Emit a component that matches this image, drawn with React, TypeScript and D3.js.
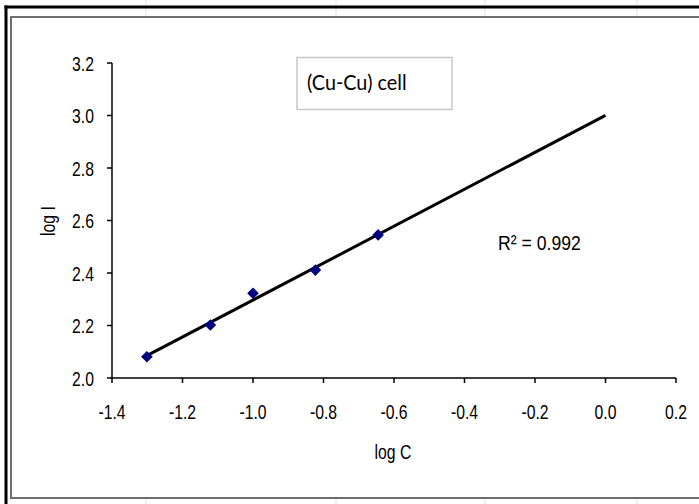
import React, { useEffect, useRef } from "react";
import * as d3 from "d3";

// measured points (log C, log I)
const logC = [-1.301, -1.121, -1.0, -0.823, -0.645];
const logI = [2.081, 2.202, 2.323, 2.411, 2.545];
const xTicks = [-1.4, -1.2, -1.0, -0.8, -0.6, -0.4, -0.2, 0.0, 0.2];
const yTicks = [2.0, 2.2, 2.4, 2.6, 2.8, 3.0, 3.2];
const trendEnd = 0.0; // trendline forecast forward to log C = 0
const title = "(Cu-Cu) cell";
const rSquared = "R\u00b2 = 0.992";
const sheetCols = [146, 336, 485, 637];

const W = 699;
const H = 504;
const NARROW = 0.75;
const FONT = "'Liberation Sans', Arial, sans-serif";

const App = () => {
  const ref = useRef<SVGSVGElement>(null);

  useEffect(() => {
    const svg = d3.select(ref.current);
    svg.selectAll("*").remove();

    // spreadsheet behind the chart
    svg.append("rect").attr("width", W).attr("height", H).attr("fill", "#fff");
    svg
      .selectAll(".col")
      .data(sheetCols)
      .enter()
      .append("line")
      .attr("x1", (d) => d)
      .attr("x2", (d) => d)
      .attr("y1", 0)
      .attr("y2", H)
      .attr("stroke", "#dde1e6")
      .attr("stroke-width", 1);

    // chart area
    svg
      .append("rect")
      .attr("x", 11)
      .attr("y", 17)
      .attr("width", W)
      .attr("height", 481)
      .attr("fill", "#fff")
      .attr("stroke", "#6e6e6e")
      .attr("stroke-width", 2);

    // selection edge
    svg.append("line").attr("x1", 4.5).attr("x2", W).attr("y1", 7).attr("y2", 7).attr("stroke", "#000").attr("stroke-width", 3);
    svg.append("line").attr("x1", 6).attr("x2", 6).attr("y1", 5.5).attr("y2", H).attr("stroke", "#000").attr("stroke-width", 3);

    const x = d3.scaleLinear().domain([-1.4, 0.2]).range([112, 676]);
    const y = d3.scaleLinear().domain([2.0, 3.2]).range([378, 63]);

    const narrowText = (g, tx, ty, txt, size, anchor, sx = NARROW) =>
      g
        .append("text")
        .attr("transform", `translate(${tx},${ty}) scale(${sx},1)`)
        .attr("text-anchor", anchor)
        .attr("font-family", FONT)
        .attr("font-size", size)
        .attr("fill", "#000")
        .text(txt);

    // y axis
    const yAxis = svg.append("g");
    yAxis.append("line").attr("x1", x(-1.4)).attr("x2", x(-1.4)).attr("y1", y(3.2)).attr("y2", y(2.0)).attr("stroke", "#000").attr("stroke-width", 1.5);
    yTicks.forEach((t) => {
      yAxis.append("line").attr("x1", x(-1.4) - 5).attr("x2", x(-1.4)).attr("y1", y(t)).attr("y2", y(t)).attr("stroke", "#000").attr("stroke-width", 1.5);
      narrowText(yAxis, x(-1.4) - 18, y(t) + 7.5, d3.format(".1f")(t), 21, "end");
    });

    // x axis
    const xAxis = svg.append("g");
    xAxis.append("line").attr("x1", x(-1.4)).attr("x2", x(0.2)).attr("y1", y(2.0)).attr("y2", y(2.0)).attr("stroke", "#000").attr("stroke-width", 1.5);
    xTicks.forEach((t) => {
      xAxis.append("line").attr("x1", x(t)).attr("x2", x(t)).attr("y1", y(2.0)).attr("y2", y(2.0) + 5).attr("stroke", "#000").attr("stroke-width", 1.5);
      narrowText(xAxis, x(t), 419, d3.format(".1f")(t).replace("\u2212", "-"), 21, "middle");
    });

    narrowText(svg, 393, 459, "log C", 21, "middle");
    svg
      .append("text")
      .attr("transform", `translate(55,221) rotate(-90) scale(${NARROW},1)`)
      .attr("text-anchor", "middle")
      .attr("font-family", FONT)
      .attr("font-size", 21)
      .text("log I");

    // least squares trendline
    const mx = d3.mean(logC);
    const my = d3.mean(logI);
    const sxy = d3.sum(logC, (c, i) => (c - mx) * (logI[i] - my));
    const sxx = d3.sum(logC, (c) => (c - mx) * (c - mx));
    const slope = sxy / sxx;
    const icpt = my - slope * mx;
    const x0 = d3.min(logC);
    svg
      .append("path")
      .attr(
        "d",
        d3.line()([
          [x(x0), y(icpt + slope * x0)],
          [x(trendEnd), y(icpt + slope * trendEnd)],
        ])
      )
      .attr("stroke", "#000")
      .attr("stroke-width", 3)
      .attr("fill", "none");

    // points
    svg
      .selectAll(".pt")
      .data(logC)
      .enter()
      .append("path")
      .attr("d", d3.symbol(d3.symbolSquare, 68)())
      .attr("transform", (d, i) => `translate(${x(d)},${y(logI[i])}) rotate(45)`)
      .attr("fill", "#000080");

    narrowText(svg, 498, 250, rSquared, 21, "start", 0.84);

    // title box
    svg
      .append("rect")
      .attr("x", 297)
      .attr("y", 57.5)
      .attr("width", 155)
      .attr("height", 52)
      .attr("fill", "#fff")
      .attr("stroke", "#c8c8c8")
      .attr("stroke-width", 1.5);
    svg
      .append("text")
      .attr("transform", `translate(307,90) scale(0.9,1)`)
      .attr("font-family", "Lato, 'Open Sans', sans-serif")
      .attr("font-size", 22)
      .attr("fill", "#000")
      .text(title);
  }, []);

  return (
    <svg
      ref={ref}
      width={W}
      height={H}
      style={{ position: "absolute", left: 0, top: 0, display: "block" }}
    />
  );
};

export default App;
